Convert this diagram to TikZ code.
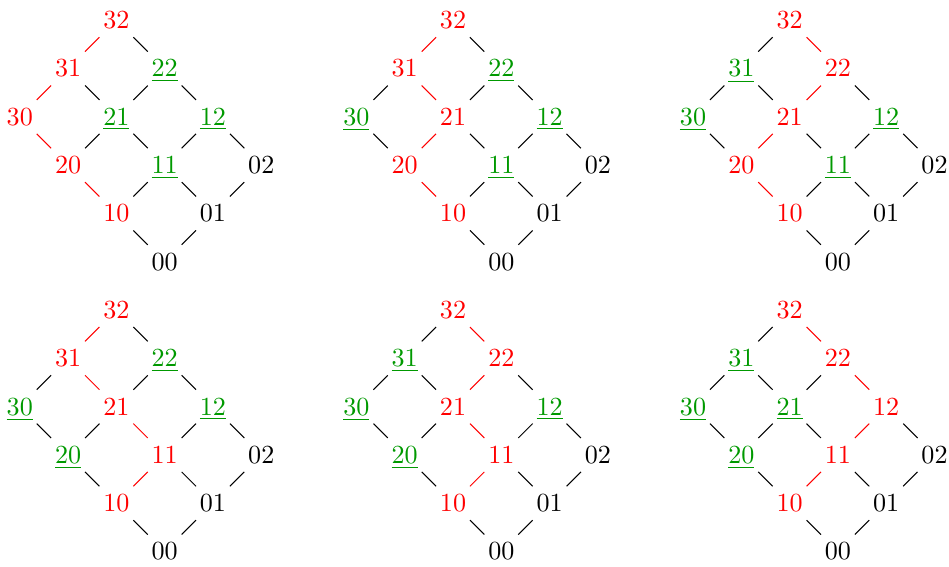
\documentclass[tikz,border=0pt]{standalone}
\usepackage{tikz}
\definecolor{chain}{HTML}{FF0000}
\definecolor{free}{HTML}{009900}

\makeatletter
% is #1 one of the chain entries in #2?
\newcommand{\chaintest}[2]{\edef\tmp{\noexpand\in@{#1}{#2}}\tmp}
\newcommand{\linkcol}[3]{\def\edgecol{black}\chaintest{#1}{#3}\ifin@\chaintest{#2}{#3}\ifin@\def\edgecol{chain}\fi\fi}
\newcommand{\poset}[3]{%
  \begin{scope}[shift={#2}]
    \foreach \i in {0,...,3}
      \foreach \j in {0,1,2} {
        \chaintest{\i\j}{#3}%
        \ifin@ \node[num,text=chain] (#1\i\j) at (\j-\i,\i+\j) {\i\j};
        \else\ifnum\i=0 \node[num] (#1\i\j) at (\j-\i,\i+\j) {\i\j};
        \else \node[num,text=free] (#1\i\j) at (\j-\i,\i+\j) {\underline{\i\j}};
        \fi\fi
      }
    \foreach \i in {0,...,3}
      \foreach \j/\k in {0/1,1/2} {
        \linkcol{\i\j}{\i\k}{#3}%
        \draw[link,\edgecol] (#1\i\j) -- (#1\i\k);
      }
    \foreach \i/\h in {0/1,1/2,2/3}
      \foreach \j in {0,1,2} {
        \linkcol{\i\j}{\h\j}{#3}%
        \draw[link,\edgecol] (#1\i\j) -- (#1\h\j);
      }
  \end{scope}}
\makeatother

\begin{document}
\begin{tikzpicture}[
  x=0.65cm,y=0.65cm,
  num/.style={inner sep=1.5pt,text height=8pt,text depth=1.6pt},
  link/.style={line width=0.4pt}
]
\useasboundingbox (0,0) rectangle (19.65,-11.72);

\poset{a}{(3.41,-5.42)}{32,31,30,20,10}
\poset{b}{(10.38,-5.42)}{32,31,21,20,10}
\poset{c}{(17.35,-5.42)}{32,22,21,20,10}

\poset{d}{(3.41,-11.42)}{32,31,21,11,10}
\poset{e}{(10.38,-11.42)}{32,22,21,11,10}
\poset{f}{(17.35,-11.42)}{32,22,12,11,10}
\end{tikzpicture}
\end{document}
